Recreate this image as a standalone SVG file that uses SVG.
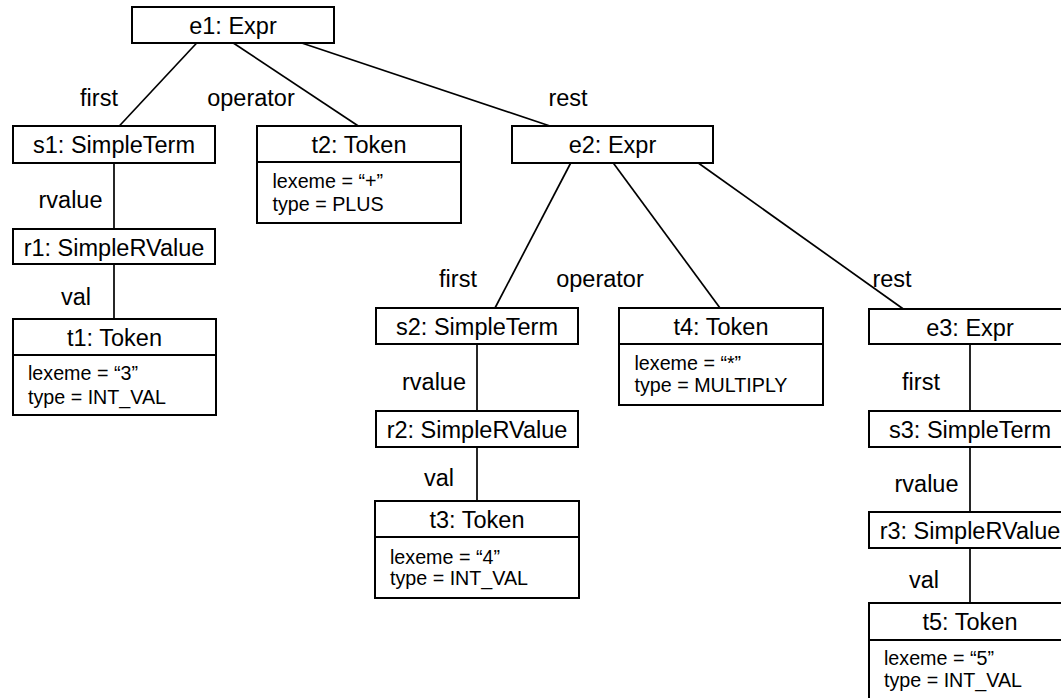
<svg xmlns="http://www.w3.org/2000/svg" width="1061" height="698" viewBox="0 0 1061 698">
  <style>
    .box { fill: #ffffff; stroke: #000000; stroke-width: 2; }
    .div { stroke: #000000; stroke-width: 2; }
    .edge { stroke: #000000; stroke-width: 1.7; fill: none; }
    .name { font-family: "Liberation Sans", Arial, sans-serif; font-size: 23.5px; text-anchor: middle; fill: #000000; }
    .role { font-family: "Liberation Sans", Arial, sans-serif; font-size: 23.5px; text-anchor: middle; fill: #000000; }
    .attr { font-family: "Liberation Sans", Arial, sans-serif; font-size: 19.7px; fill: #000000; }
  </style>
  <rect width="1061" height="698" fill="#ffffff"/>

  <!-- links between objects -->
  <g id="connectors">
    <line class="edge" x1="196.7" y1="43" x2="119.3" y2="126"/>
    <line class="edge" x1="233.3" y1="43" x2="358.3" y2="126"/>
    <line class="edge" x1="301.7" y1="43" x2="550" y2="126"/>
    <line class="edge" x1="114" y1="163" x2="114" y2="229"/>
    <line class="edge" x1="114" y1="264" x2="114" y2="319"/>
    <line class="edge" x1="570.7" y1="163" x2="495" y2="308"/>
    <line class="edge" x1="613.3" y1="163" x2="720" y2="308"/>
    <line class="edge" x1="698.3" y1="163" x2="903.3" y2="309"/>
    <line class="edge" x1="477" y1="344" x2="477" y2="411"/>
    <line class="edge" x1="477" y1="447" x2="477" y2="501"/>
    <line class="edge" x1="970" y1="344" x2="970" y2="411"/>
    <line class="edge" x1="970" y1="447" x2="970" y2="512"/>
    <line class="edge" x1="970" y1="548" x2="970" y2="603"/>
  </g>

  <!-- role names on the links -->
  <g id="roles">
    <text class="role" x="99" y="106">first</text>
    <text class="role" x="251" y="106">operator</text>
    <text class="role" x="568" y="106">rest</text>
    <text class="role" x="70.5" y="208">rvalue</text>
    <text class="role" x="76" y="305">val</text>
    <text class="role" x="458" y="287">first</text>
    <text class="role" x="600" y="287">operator</text>
    <text class="role" x="892" y="287">rest</text>
    <text class="role" x="434" y="390">rvalue</text>
    <text class="role" x="439" y="486">val</text>
    <text class="role" x="921" y="390">first</text>
    <text class="role" x="926.5" y="492">rvalue</text>
    <text class="role" x="924" y="588">val</text>
  </g>

  <g id="e1">
    <rect class="box" x="132" y="7" width="202" height="36"/>
    <text class="name" x="233" y="34">e1: Expr</text>
  </g>

  <g id="s1">
    <rect class="box" x="13" y="126" width="202" height="37"/>
    <text class="name" x="114" y="153">s1: SimpleTerm</text>
  </g>

  <g id="t2">
    <rect class="box" x="257" y="126" width="204" height="97"/>
    <line class="div" x1="257" y1="162" x2="461" y2="162"/>
    <text class="name" x="359" y="153">t2: Token</text>
    <text class="attr" x="272.5" y="188">lexeme = “+”</text>
    <text class="attr" x="272.5" y="210.5">type = PLUS</text>
  </g>

  <g id="e2">
    <rect class="box" x="512" y="126" width="201" height="37"/>
    <text class="name" x="612.5" y="153">e2: Expr</text>
  </g>

  <g id="r1">
    <rect class="box" x="13" y="229" width="202" height="35"/>
    <text class="name" x="114" y="255.5">r1: SimpleRValue</text>
  </g>

  <g id="t1">
    <rect class="box" x="13" y="319" width="203" height="96"/>
    <line class="div" x1="13" y1="355" x2="216" y2="355"/>
    <text class="name" x="114.5" y="346">t1: Token</text>
    <text class="attr" x="28" y="380">lexeme = “3”</text>
    <text class="attr" x="28" y="403.5">type = INT_VAL</text>
  </g>

  <g id="s2">
    <rect class="box" x="376" y="308" width="202" height="36"/>
    <text class="name" x="477" y="335">s2: SimpleTerm</text>
  </g>

  <g id="t4">
    <rect class="box" x="619" y="308" width="204" height="97"/>
    <line class="div" x1="619" y1="344" x2="823" y2="344"/>
    <text class="name" x="721" y="335">t4: Token</text>
    <text class="attr" x="634.5" y="369.5">lexeme = “*”</text>
    <text class="attr" x="634.5" y="392">type = MULTIPLY</text>
  </g>

  <g id="e3">
    <rect class="box" x="869" y="309" width="202" height="35"/>
    <text class="name" x="970" y="335.5">e3: Expr</text>
  </g>

  <g id="r2">
    <rect class="box" x="376" y="411" width="202" height="36"/>
    <text class="name" x="477" y="438">r2: SimpleRValue</text>
  </g>

  <g id="t3">
    <rect class="box" x="375" y="501" width="204" height="97"/>
    <line class="div" x1="375" y1="537" x2="579" y2="537"/>
    <text class="name" x="477" y="528">t3: Token</text>
    <text class="attr" x="390" y="563.5">lexeme = “4”</text>
    <text class="attr" x="390" y="585">type = INT_VAL</text>
  </g>

  <g id="s3">
    <rect class="box" x="869" y="411" width="202" height="36"/>
    <text class="name" x="970" y="438">s3: SimpleTerm</text>
  </g>

  <g id="r3">
    <rect class="box" x="869" y="512" width="202" height="36"/>
    <text class="name" x="970" y="539">r3: SimpleRValue</text>
  </g>

  <g id="t5">
    <rect class="box" x="869" y="603" width="202" height="100"/>
    <line class="div" x1="869" y1="640" x2="1071" y2="640"/>
    <text class="name" x="970" y="630">t5: Token</text>
    <text class="attr" x="884" y="665">lexeme = “5”</text>
    <text class="attr" x="884" y="686.5">type = INT_VAL</text>
  </g>
</svg>
